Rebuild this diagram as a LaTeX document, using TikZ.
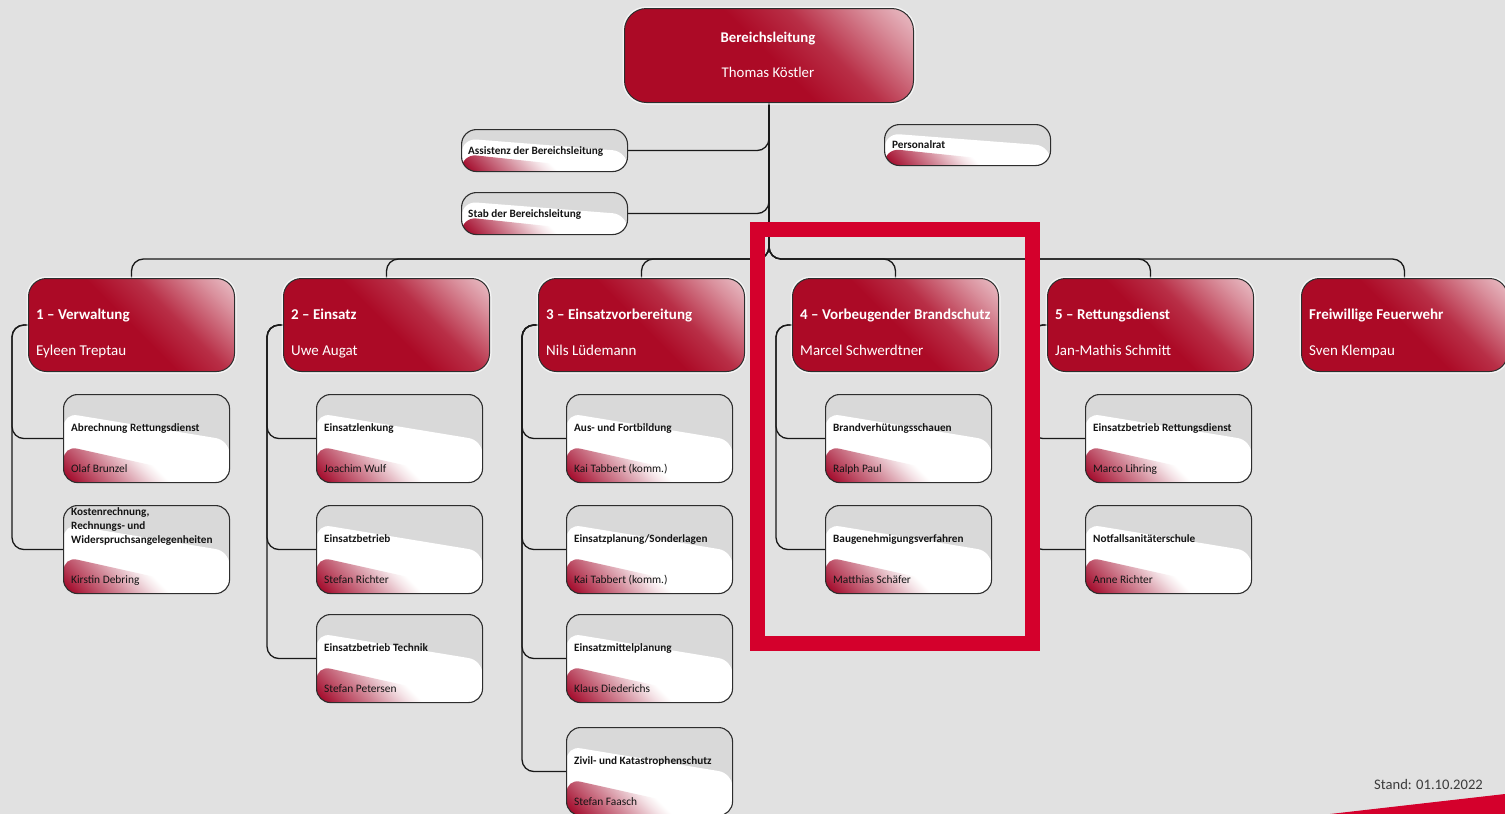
\documentclass[tikz,border=0pt]{standalone}
\usepackage{fontspec}
\setmainfont{Carlito}
\usetikzlibrary{calc}
\pgfdeclarelayer{connlayer}
\pgfsetlayers{connlayer,main}
\definecolor{bg}{RGB}{225,225,225}
\definecolor{boxgray}{RGB}{217,217,217}
\definecolor{boxred}{RGB}{172,10,38}
\definecolor{framered}{RGB}{212,0,44}
\definecolor{outl}{RGB}{45,45,45}
\definecolor{txt}{RGB}{20,20,20}
\definecolor{standgray}{RGB}{60,60,60}
\colorlet{rg1}{boxred!85!white}
\colorlet{rg2}{boxred!45!white}
\colorlet{rg3}{boxred!14!white}
\definecolor{wr0}{RGB}{165,16,48}
\colorlet{wr1}{wr0!50!white}
\colorlet{wr2}{wr0!12!white}
\pgfdeclareverticalshading{redgloss}{100bp}{color(0bp)=(boxred); color(50bp)=(boxred); color(62bp)=(rg1); color(77bp)=(rg2); color(90bp)=(rg3); color(100bp)=(rg3)}
\pgfdeclareverticalshading{wred}{100bp}{color(0bp)=(wr0); color(18bp)=(wr0); color(35bp)=(wr1); color(47bp)=(wr2); color(52bp)=(white); color(100bp)=(white)}
\tikzset{
  conn/.style={draw=black!90, line width=1.3pt, rounded corners=12pt},
  redbox/.style={shade, shading=redgloss, shading angle=-45, draw=outl, line width=1pt,
    rounded corners=18pt, minimum width=206pt, minimum height=93pt, inner sep=0,
    preaction={draw=white, line width=4pt, opacity=.65}},
  topbox/.style={redbox, rounded corners=22pt, minimum width=289pt, minimum height=94pt},
  wbox/.style={draw=outl, line width=1.1pt, rounded corners=14pt, minimum width=166pt,
    minimum height=88pt, inner sep=0,
    path picture={
      \coordinate (pa) at (path picture bounding box.north west);
      \coordinate (pb) at (path picture bounding box.south west);
      \coordinate (pc) at (path picture bounding box.south east);
      \coordinate (pd) at (path picture bounding box.north east);
      \fill[boxgray] (pa) rectangle (pc);
      \fill[white] ($(pa)!0.21!(pb)$) -- ($(pd)!0.52!(pc)$) -- (pc) -- (pb) -- cycle;
      \shade[shading=wred, shading angle=-45] ($(pa)!0.58!(pb)$) -- (pc) -- (pb) -- cycle;
    }},
  smallbox/.style={wbox, minimum height=42pt, rounded corners=15pt},
  depttitle/.style={font=\fontsize{15}{17}\selectfont\bfseries, text=white, inner sep=0},
  deptname/.style={font=\fontsize{15}{17}\selectfont, text=white, inner sep=0},
  subtitle/.style={font=\fontsize{11.2}{14}\selectfont\bfseries, text=txt, inner sep=0},
  subname/.style={font=\fontsize{11.4}{13}\selectfont, text=txt, inner sep=0},
  smalltitle/.style={font=\fontsize{11.2}{12}\selectfont\bfseries, text=txt, inner sep=0},
}
\newcommand\deptbox[4]{%
  \node[redbox, anchor=north west] (#1) at (#2,278) {};
  \node[depttitle, anchor=base west] (#1t) at ($(#1.north west)+(8,41)$) {#3};
  \node[deptname, anchor=base west] (#1n) at ($(#1.north west)+(8,77)$) {#4};
}
\newcommand\subbox[5]{%
  \node[wbox, anchor=north west] (#1) at (#2,#3) {};
  \node[subtitle, anchor=base west] (#1t) at ($(#1.north west)+(8,37)$) {#4};
  \node[subname, anchor=base west] (#1n) at ($(#1.north west)+(8,78)$) {#5};
}
\begin{document}
\begin{tikzpicture}[x=1pt,y=-1pt]
\begin{pgfonlayer}{connlayer}
\fill[bg] (0,0) rectangle (1505,814);
\end{pgfonlayer}
\useasboundingbox (0,0) rectangle (1505,814);

% top
\node[topbox, anchor=north west] (top) at (624,8) {};
\node[depttitle, font=\fontsize{14.8}{16}\selectfont\bfseries, anchor=base] (topt) at (768,42) {Bereichsleitung};
\node[deptname, font=\fontsize{14.8}{16}\selectfont, anchor=base] (topn) at (768,77) {Thomas Köstler};

% staff boxes
\node[smallbox, anchor=north west] (assist) at (461,129) {};
\node[smalltitle, anchor=base west] (assistt) at (468,154) {Assistenz der Bereichsleitung};
\node[smallbox, anchor=north west] (stab) at (461,192) {};
\node[smalltitle, anchor=base west] (stabt) at (468,217) {Stab der Bereichsleitung};
\node[smallbox, minimum height=41pt, anchor=north west] (pers) at (884,124) {};
\node[smalltitle, anchor=base west] (perst) at (892,148) {Personalrat};

% departments
\deptbox{d1}{28}{1 – Verwaltung}{Eyleen Treptau}
\deptbox{d2}{283}{2 – Einsatz}{Uwe Augat}
\deptbox{d3}{538}{3 – Einsatzvorbereitung}{Nils Lüdemann}
\deptbox{d4}{792}{4 – Vorbeugender Brandschutz}{Marcel Schwerdtner}
\deptbox{d5}{1047}{5 – Rettungsdienst}{Jan-Mathis Schmitt}
\deptbox{d6}{1301}{Freiwillige Feuerwehr}{Sven Klempau}

% sub units
\subbox{s11}{63}{394}{Abrechnung Rettungsdienst}{Olaf Brunzel}
\node[wbox, anchor=north west] (s12) at (63,505) {};
\node[subtitle, anchor=north west, align=left] (s12t) at ($(s12.north west)+(8,2)$) {Kostenrechnung,\\Rechnungs- und\\Widerspruchsangelegenheiten};
\node[subname, anchor=base west] (s12n) at ($(s12.north west)+(8,78)$) {Kirstin Debring};
\subbox{s21}{316}{394}{Einsatzlenkung}{Joachim Wulf}
\subbox{s22}{316}{505}{Einsatzbetrieb}{Stefan Richter}
\subbox{s23}{316}{614}{Einsatzbetrieb Technik}{Stefan Petersen}
\subbox{s31}{566}{394}{Aus- und Fortbildung}{Kai Tabbert (komm.)}
\subbox{s32}{566}{505}{Einsatzplanung/Sonderlagen}{Kai Tabbert (komm.)}
\subbox{s33}{566}{614}{Einsatzmittelplanung}{Klaus Diederichs}
\subbox{s34}{566}{727}{Zivil- und Katastrophenschutz}{Stefan Faasch}
\subbox{s41}{825}{394}{Brandverhütungsschauen}{Ralph Paul}
\subbox{s42}{825}{505}{Baugenehmigungsverfahren}{Matthias Schäfer}
\subbox{s51}{1085}{394}{Einsatzbetrieb Rettungsdienst}{Marco Lihring}
\subbox{s52}{1085}{505}{Notfallsanitäterschule}{Anne Richter}

% connectors, drawn behind the boxes
\begin{pgfonlayer}{connlayer}
\draw[conn] (assist.east) -| (top.south);
\draw[conn] (stab.east) -| (top.south);
\foreach \d in {d1,d2,d3,d4,d5,d6}{
  \draw[conn] (top.south) |- ([yshift=19pt]\d.north) -- (\d.north);
}
\foreach \d/\s in {d1/s11,d1/s12,d2/s21,d2/s22,d2/s23,d3/s31,d3/s32,d3/s33,d3/s34,d4/s41,d4/s42,d5/s51,d5/s52}{
  \draw[conn] (\d.west) -- ++(-16,0) |- (\s.west);
}
\end{pgfonlayer}

% highlight frame
\draw[framered, line width=15pt] (757.5,229.5) rectangle (1032.5,643.5);

% footer
\fill[framered] (1330,814) -- (1505,794) -- (1505,814) -- cycle;
\node[anchor=base east, font=\fontsize{14.6}{16}\selectfont, text=standgray, inner sep=0] (stand) at (1483,789) {Stand: 01.10.2022};
\end{tikzpicture}
\end{document}
